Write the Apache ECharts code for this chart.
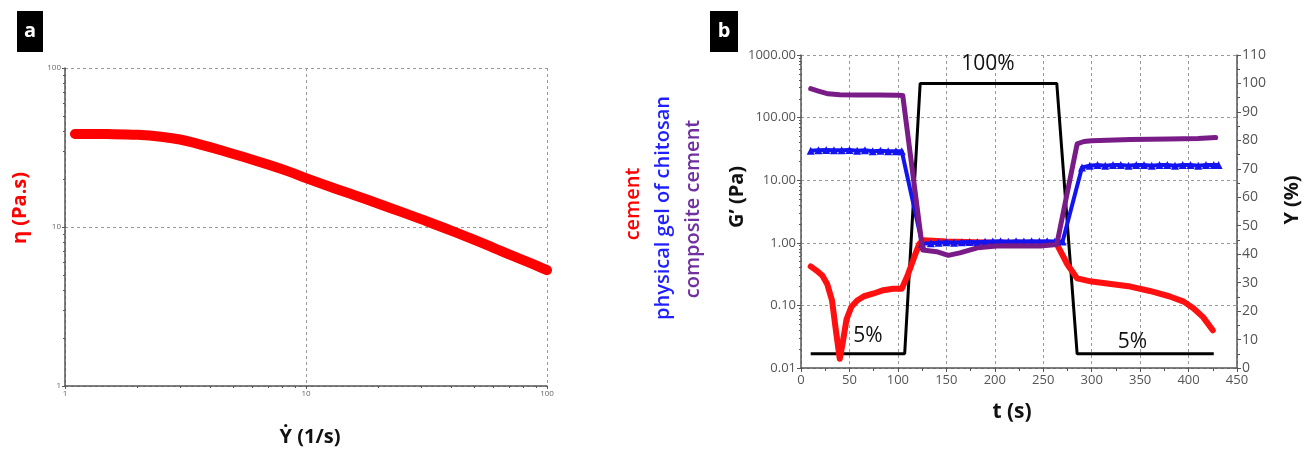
<!DOCTYPE html>
<html>
<head>
<meta charset="utf-8">
<script src="https://cdn.jsdelivr.net/npm/echarts@6/dist/echarts.min.js"></script>
<style>
html,body{margin:0;padding:0;background:#fff;}
#chart{width:1315px;height:452px;}
</style>
</head>
<body>
<div id="chart"></div>
<script>
// ---- Panel a: viscosity vs shear rate ----
const shearRate = [1.1, 1.5, 2.0, 2.5, 3.0, 3.5, 4.0, 5.0, 6.0, 7.0, 8.5, 10, 13, 16, 20, 25, 30, 40, 50, 60, 70, 85, 100];
const viscosity = [38.5, 38.4, 38.0, 37.0, 35.5, 33.6, 31.8, 28.8, 26.5, 24.6, 22.3, 20.3, 17.6, 15.8, 14.0, 12.4, 11.2, 9.5, 8.3, 7.4, 6.7, 5.95, 5.35];

// ---- Panel b: oscillatory time sweep ----
const tStrain = [10, 107, 123, 264, 285, 426];
const strain = [5, 5, 100, 100, 5, 5];

const tCement = [10, 16, 22, 27, 32, 36, 40, 43, 47, 52, 58, 65, 75, 85, 95, 104, 110, 117, 122, 126, 150, 200, 250, 264, 275, 285, 300, 320, 340, 360, 380, 395, 405, 415, 425];
const gCement = [0.42, 0.36, 0.30, 0.22, 0.12, 0.04, 0.014, 0.025, 0.06, 0.095, 0.12, 0.14, 0.155, 0.175, 0.185, 0.185, 0.30, 0.60, 0.95, 1.10, 1.05, 1.0, 1.0, 0.95, 0.45, 0.27, 0.24, 0.22, 0.20, 0.17, 0.14, 0.115, 0.09, 0.065, 0.04];

const tGel = [10, 18, 26, 34, 42, 50, 58, 66, 74, 82, 90, 98, 104, 125, 134, 142, 150, 158, 166, 174, 182, 190, 198, 206, 214, 222, 230, 238, 246, 254, 262, 270, 290, 298, 306, 314, 322, 330, 338, 346, 354, 362, 370, 378, 386, 394, 402, 410, 418, 426, 431];
const gGel = [29.5, 30.0, 30.5, 30.0, 30.0, 30.5, 29.5, 30.0, 29.0, 29.5, 29.0, 29.0, 29.0, 0.97, 0.98, 1.0, 1.02, 1.0, 1.02, 1.03, 1.02, 1.04, 1.05, 1.06, 1.04, 1.06, 1.05, 1.06, 1.05, 1.06, 1.05, 1.05, 16.0, 17.0, 17.5, 17.0, 17.5, 17.5, 17.0, 17.5, 17.5, 17.0, 17.5, 17.5, 17.0, 17.5, 17.5, 17.0, 17.5, 17.5, 17.5];

const tComposite = [10, 18, 28, 40, 60, 80, 100, 105, 125.5, 140, 152, 164, 182, 202, 223, 247, 264, 285, 292, 300, 340, 380, 410, 428];
const gComposite = [290, 265, 240, 232, 230, 229, 228, 226, 0.77, 0.72, 0.63, 0.69, 0.83, 0.89, 0.89, 0.89, 0.94, 38, 41.5, 42.5, 44.5, 45.5, 46.5, 48];

// annotation labels
const strainLabels = ['100%', '5%', '5%'];
const strainLabelT = [193, 69, 342];
const strainLabelY = [107, 11.2, 9.1];

const zip = (a, b) => a.map((v, i) => [v, b[i]]);

const chart = echarts.init(document.getElementById('chart'), null, {renderer: 'canvas'});
const axisCol = '#555';
const gridLine = {show: true, lineStyle: {color: '#9a9a9a', type: [3, 3], width: 1}};
const FONT = '"Open Sans", sans-serif';

function vText(x, y, text, color, size, weight) {
  return {type: 'text', x: x, y: y, rotation: Math.PI / 2, z: 100,
    style: {text: text, fill: color, font: weight + ' ' + size + 'px ' + FONT,
      align: 'center', verticalAlign: 'middle', textAlign: 'center', textVerticalAlign: 'middle'}};
}
function hText(x, y, text, color, size, weight) {
  return {type: 'text', x: x, y: y, z: 100,
    style: {text: text, fill: color, font: weight + ' ' + size + 'px ' + FONT,
      align: 'center', verticalAlign: 'middle', textAlign: 'center', textVerticalAlign: 'middle'}};
}

const option = {
  backgroundColor: '#fff',
  animation: false,
  grid: [
    {left: 65, top: 68, width: 482, height: 318},
    {left: 801, top: 55, width: 436, height: 313}
  ],
  xAxis: [
    {type: 'log', gridIndex: 0, min: 1, max: 100, logBase: 10,
      axisLine: {lineStyle: {color: axisCol, width: 1.5}},
      axisTick: {show: true, length: 3, lineStyle: {color: axisCol}},
      minorTick: {show: true, splitNumber: 9, length: 2, lineStyle: {color: axisCol}},
      axisLabel: {fontSize: 8, color: '#666', margin: 4, fontFamily: FONT},
      splitLine: gridLine},
    {type: 'value', gridIndex: 1, min: 0, max: 450, interval: 50,
      axisLine: {onZero: false, lineStyle: {color: axisCol, width: 1.5}},
      axisTick: {show: true, length: 4, lineStyle: {color: axisCol}},
      minorTick: {show: true, splitNumber: 2, length: 3, lineStyle: {color: axisCol}},
      axisLabel: {fontSize: 13, color: '#555', margin: 6, fontFamily: FONT},
      splitLine: gridLine}
  ],
  yAxis: [
    {type: 'log', gridIndex: 0, min: 1, max: 100, logBase: 10,
      axisLine: {show: true, lineStyle: {color: axisCol, width: 1.5}},
      axisTick: {show: true, length: 3, lineStyle: {color: axisCol}},
      minorTick: {show: true, splitNumber: 9, length: 2, lineStyle: {color: axisCol}},
      axisLabel: {fontSize: 8, color: '#666', margin: 4, fontFamily: FONT},
      splitLine: gridLine},
    {type: 'log', gridIndex: 1, min: 0.01, max: 1000, logBase: 10, position: 'left',
      axisLine: {show: true, lineStyle: {color: axisCol, width: 1.5}},
      axisTick: {show: true, length: 4, lineStyle: {color: axisCol}},
      minorTick: {show: true, splitNumber: 9, length: 2, lineStyle: {color: axisCol}},
      axisLabel: {fontSize: 13, color: '#555', margin: 5, fontFamily: FONT,
        formatter: v => Number(v).toFixed(2)},
      splitLine: gridLine},
    {type: 'value', gridIndex: 1, min: 0, max: 110, interval: 10, position: 'right',
      axisLine: {show: true, lineStyle: {color: axisCol, width: 1.5}},
      axisTick: {show: true, length: 4, lineStyle: {color: axisCol}},
      minorTick: {show: true, splitNumber: 2, length: 3, lineStyle: {color: axisCol}},
      axisLabel: {fontSize: 14, color: '#555', margin: 5, fontFamily: FONT},
      splitLine: {show: false}}
  ],
  series: [
    {type: 'line', name: 'viscosity', xAxisIndex: 0, yAxisIndex: 0,
      data: zip(shearRate, viscosity), smooth: 0.4, showSymbol: false,
      lineStyle: {color: '#ff0000', width: 10, cap: 'round', join: 'round'}, z: 3},
    {type: 'line', name: 'strain', xAxisIndex: 1, yAxisIndex: 2,
      data: zip(tStrain, strain), showSymbol: false,
      lineStyle: {color: '#000', width: 3}, itemStyle: {color: '#000'}, z: 2,
      markPoint: {symbol: 'circle', symbolSize: 0,
        label: {show: true, position: 'inside', formatter: '{b}', color: '#111', fontSize: 21, fontFamily: FONT},
        data: strainLabels.map((s, i) => ({name: s, coord: [strainLabelT[i], strainLabelY[i]]}))}},
    {type: 'line', name: 'cement', xAxisIndex: 1, yAxisIndex: 1,
      data: zip(tCement, gCement), showSymbol: false,
      lineStyle: {color: '#ff1010', width: 6, cap: 'round', join: 'round'}, z: 3},
    {type: 'line', name: 'physical gel of chitosan', xAxisIndex: 1, yAxisIndex: 1,
      data: zip(tGel, gGel), symbol: 'triangle', symbolSize: 8, showSymbol: true,
      itemStyle: {color: '#1414f0'},
      lineStyle: {color: '#1414f0', width: 4, join: 'round'}, z: 4},
    {type: 'line', name: 'composite cement', xAxisIndex: 1, yAxisIndex: 1,
      data: zip(tComposite, gComposite), showSymbol: false,
      lineStyle: {color: '#7a1c88', width: 5, cap: 'round', join: 'round'}, z: 5}
  ],
  graphic: [
    {type: 'rect', shape: {x: 17, y: 11, width: 26, height: 41}, style: {fill: '#000'}},
    hText(30, 31, 'a', '#fff', 20, 'bold'),
    {type: 'rect', shape: {x: 710, y: 11, width: 28, height: 41}, style: {fill: '#000'}},
    hText(724, 31, 'b', '#fff', 20, 'bold'),
    vText(20, 208, 'η (Pa.s)', '#ff0000', 20, 'bold'),
    hText(310, 437, 'Ẏ (1/s)', '#111', 20, 'bold'),
    hText(1012, 412, 't (s)', '#111', 21, 'bold'),
    vText(737, 197, 'G’ (Pa)', '#111', 20, 'bold'),
    vText(1292, 200, 'Υ (%)', '#111', 20, 'bold'),
    vText(633, 204, 'cement', '#ff0000', 20, '600'),
    vText(663, 208, 'physical gel of chitosan', '#1f1fff', 20, '600'),
    vText(693, 209, 'composite cement', '#7030a0', 20, '600')
  ]
};
chart.setOption(option);
</script>
</body>
</html>
